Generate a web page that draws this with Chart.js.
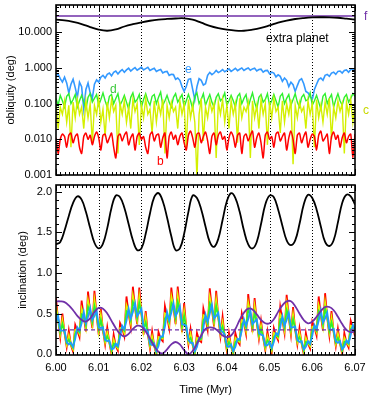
<!DOCTYPE html>
<html>
<head>
<meta charset="utf-8">
<script src="https://cdn.jsdelivr.net/npm/chart.js@4.4.0/dist/chart.umd.min.js"></script>
<style>
  html, body { margin: 0; padding: 0; background: #fff; }
  #wrap { position: relative; width: 374px; height: 397px; }
  #wrap canvas { position: absolute; left: 0; }
</style>
</head>
<body>
<div id="wrap">
  <canvas id="topChart" width="374" height="180" style="top:0;width:374px;height:180px"></canvas>
  <canvas id="botChart" width="374" height="217" style="top:180px;width:374px;height:217px"></canvas>
</div>
<script>
// sample times (Myr)
const timeFine = [];   // every 0.0005
for (let i = 0; i <= 140; i++) timeFine.push(+(6 + 0.0005 * i).toFixed(4));
const timeMid = [];    // every 0.001
for (let i = 0; i <= 70; i++) timeMid.push(+(6 + 0.001 * i).toFixed(3));
const timeCoarse = []; // every 0.002
for (let i = 0; i <= 35; i++) timeCoarse.push(+(6 + 0.002 * i).toFixed(3));

const xTickVals = [6.00, 6.01, 6.02, 6.03, 6.04, 6.05, 6.06, 6.07];
const dottedTimes = [6.01, 6.02, 6.03, 6.04, 6.05, 6.06];
const oblTicks = [0.001, 0.01, 0.1, 1, 10];
const incTicks = [0, 0.5, 1.0, 1.5, 2.0];

// ---- top panel: obliquity (deg) ----
const oblFTimes = [6.00, 6.035, 6.07];
const oblF = [28.5, 28.5, 28.6];

const oblExtra = [22.5, 21.5, 19.5, 17, 14, 11.8, 11.0, 12.0, 14.5, 16.8,
  19.0, 21.0, 22.6, 23.6, 24.3, 24.6, 22.5, 18.5, 15.0, 13.0,
  11.8, 11.1, 11.0, 11.8, 13.2, 15.5, 18.5, 21.2, 23.5, 25.0,
  26.0, 26.3, 26.2, 25.5, 24.0, 22.5];

const oblE = [0.62, 0.66, 0.50, 0.40, 0.55, 0.38, 0.20, 0.35, 0.48, 0.28,
  0.15, 0.40, 0.30, 0.07, 0.25, 0.38, 0.20, 0.14, 0.35, 0.46,
  0.40, 0.55, 0.62, 0.52, 0.66, 0.72, 0.60, 0.75, 0.82, 0.68,
  0.80, 0.90, 0.76, 0.88, 0.98, 0.82, 0.92, 1.02, 0.86, 0.95,
  1.05, 0.88, 0.96, 1.04, 0.85, 0.92, 0.98, 0.80, 0.86, 0.90,
  0.72, 0.78, 0.80, 0.62, 0.66, 0.65, 0.48, 0.52, 0.45, 0.30,
  0.22, 0.30, 0.48, 0.50, 0.25, 0.13, 0.30, 0.50, 0.45, 0.33,
  0.36, 0.62, 0.75, 0.65, 0.72, 0.85, 0.74, 0.80, 0.90, 0.78,
  0.85, 0.94, 0.80, 0.88, 0.98, 0.84, 0.92, 1.00, 0.85, 0.93,
  1.00, 0.86, 0.94, 0.98, 0.82, 0.90, 0.92, 0.76, 0.84, 0.85,
  0.68, 0.76, 0.72, 0.56, 0.64, 0.58, 0.42, 0.52, 0.45, 0.30,
  0.40, 0.34, 0.22, 0.32, 0.45, 0.50, 0.36, 0.22, 0.20, 0.16,
  0.13, 0.25, 0.35, 0.48, 0.52, 0.45, 0.62, 0.66, 0.58, 0.72,
  0.76, 0.66, 0.80, 0.82, 0.72, 0.85, 0.88, 0.76, 0.90, 0.92,
  0.82];

const oblD = [0.14, 0.09, 0.17, 0.12, 0.08, 0.16, 0.19, 0.10, 0.13, 0.18,
  0.08, 0.12, 0.17, 0.11, 0.07, 0.15, 0.19, 0.11, 0.14, 0.18,
  0.09, 0.13, 0.20, 0.12, 0.08, 0.16, 0.18, 0.10, 0.14, 0.19,
  0.09, 0.12, 0.17, 0.11, 0.07, 0.15, 0.20, 0.11, 0.13, 0.18,
  0.08, 0.13, 0.19, 0.12, 0.09, 0.16, 0.18, 0.10, 0.15, 0.21,
  0.09, 0.12, 0.17, 0.11, 0.08, 0.15, 0.19, 0.11, 0.14, 0.18,
  0.08, 0.12, 0.18, 0.12, 0.07, 0.16, 0.20, 0.10, 0.13, 0.19,
  0.09, 0.13, 0.18, 0.11, 0.08, 0.15, 0.19, 0.12, 0.14, 0.20,
  0.09, 0.12, 0.17, 0.12, 0.08, 0.16, 0.19, 0.10, 0.14, 0.18,
  0.08, 0.13, 0.20, 0.11, 0.07, 0.15, 0.18, 0.11, 0.13, 0.19,
  0.09, 0.12, 0.18, 0.12, 0.08, 0.16, 0.19, 0.10, 0.14, 0.18,
  0.09, 0.13, 0.19, 0.11, 0.08, 0.15, 0.18, 0.12, 0.13, 0.20,
  0.09, 0.12, 0.17, 0.11, 0.07, 0.16, 0.19, 0.10, 0.14, 0.18,
  0.08, 0.13, 0.19, 0.12, 0.09, 0.15, 0.18, 0.11, 0.14, 0.19,
  0.16];

const oblC = [0.10, 0.02, 0.08, 0.05, 0.12, 0.03, 0.09, 0.006, 0.11, 0.04,
  0.13, 0.05, 0.08, 0.02, 0.12, 0.04, 0.10, 0.008, 0.09, 0.05,
  0.14, 0.03, 0.07, 0.012, 0.11, 0.04, 0.13, 0.06, 0.09, 0.004,
  0.10, 0.05, 0.12, 0.03, 0.08, 0.02, 0.13, 0.06, 0.10, 0.007,
  0.09, 0.04, 0.14, 0.05, 0.07, 0.015, 0.12, 0.03, 0.10, 0.05,
  0.13, 0.004, 0.09, 0.04, 0.11, 0.06, 0.08, 0.02, 0.12, 0.05,
  0.10, 0.006, 0.13, 0.04, 0.09, 0.03, 0.0008, 0.05, 0.14, 0.009,
  0.08, 0.04, 0.12, 0.06, 0.10, 0.003, 0.11, 0.05, 0.13, 0.03,
  0.09, 0.02, 0.12, 0.05, 0.10, 0.008, 0.14, 0.04, 0.08, 0.06,
  0.11, 0.003, 0.12, 0.04, 0.09, 0.02, 0.13, 0.05, 0.10, 0.007,
  0.11, 0.04, 0.14, 0.06, 0.08, 0.015, 0.12, 0.03, 0.10, 0.05,
  0.13, 0.002, 0.09, 0.04, 0.11, 0.06, 0.08, 0.02, 0.12, 0.05,
  0.10, 0.006, 0.13, 0.04, 0.09, 0.03, 0.11, 0.05, 0.14, 0.01,
  0.08, 0.04, 0.12, 0.06, 0.10, 0.004, 0.11, 0.05, 0.13, 0.03,
  0.09];

const oblB = [0.011, 0.004, 0.010, 0.014, 0.012, 0.006, 0.013, 0.015, 0.008, 0.012,
  0.014, 0.006, 0.004, 0.012, 0.015, 0.010, 0.013, 0.007, 0.012, 0.016,
  0.011, 0.005, 0.013, 0.014, 0.008, 0.011, 0.015, 0.006, 0.003, 0.012,
  0.014, 0.009, 0.013, 0.016, 0.007, 0.011, 0.014, 0.005, 0.012, 0.015,
  0.010, 0.012, 0.006, 0.004, 0.013, 0.016, 0.009, 0.013, 0.014, 0.006,
  0.011, 0.015, 0.003, 0.012, 0.016, 0.010, 0.013, 0.007, 0.012, 0.015,
  0.008, 0.005, 0.013, 0.017, 0.011, 0.006, 0.014, 0.015, 0.008, 0.012,
  0.016, 0.009, 0.004, 0.012, 0.015, 0.007, 0.013, 0.016, 0.010, 0.012,
  0.005, 0.011, 0.016, 0.012, 0.006, 0.013, 0.015, 0.004, 0.012, 0.014,
  0.009, 0.013, 0.017, 0.006, 0.011, 0.015, 0.008, 0.003, 0.013, 0.016,
  0.010, 0.012, 0.006, 0.014, 0.016, 0.009, 0.012, 0.015, 0.005, 0.011,
  0.017, 0.010, 0.004, 0.013, 0.015, 0.008, 0.012, 0.016, 0.006, 0.010,
  0.014, 0.012, 0.005, 0.013, 0.017, 0.009, 0.011, 0.014, 0.004, 0.012,
  0.016, 0.010, 0.013, 0.006, 0.011, 0.015, 0.008, 0.012, 0.014, 0.003,
  0.014];

// ---- bottom panel: inclination (deg) ----
const incExtra = [1.35, 1.38, 1.52, 1.70, 1.86, 1.94, 1.90, 1.75, 1.55, 1.37,
  1.30, 1.36, 1.55, 1.80, 1.95, 1.93, 1.80, 1.60, 1.40, 1.28,
  1.30, 1.48, 1.73, 1.93, 1.98, 1.88, 1.68, 1.45, 1.28, 1.30,
  1.48, 1.75, 1.95, 1.92, 1.78, 1.57, 1.38, 1.32, 1.42, 1.65,
  1.88, 1.98, 1.92, 1.75, 1.52, 1.35, 1.30, 1.38, 1.60, 1.84,
  1.95, 1.93, 1.78, 1.58, 1.40, 1.34, 1.40, 1.60, 1.84, 1.96,
  1.92, 1.78, 1.57, 1.38, 1.33, 1.40, 1.62, 1.86, 1.96, 1.94,
  1.84];

const incF = [0.65, 0.65, 0.64, 0.60, 0.54, 0.47, 0.42, 0.40, 0.44, 0.52,
  0.57, 0.56, 0.50, 0.41, 0.32, 0.25, 0.22, 0.25, 0.31, 0.35,
  0.34, 0.28, 0.19, 0.10, 0.03, 0.01, 0.06, 0.12, 0.15, 0.12,
  0.05, 0.00, 0.04, 0.13, 0.23, 0.31, 0.33, 0.32, 0.28, 0.23,
  0.21, 0.23, 0.31, 0.42, 0.51, 0.56, 0.55, 0.49, 0.42, 0.38,
  0.38, 0.43, 0.52, 0.60, 0.65, 0.65, 0.59, 0.50, 0.42, 0.38,
  0.40, 0.46, 0.53, 0.58, 0.58, 0.54, 0.46, 0.37, 0.30, 0.27,
  0.28];

const incFMeanTimes = [6.00, 6.07];
const incFMean = [0.30, 0.30];

const incB = [0.69, 0.42, 0.21, 0.50, 0.26, 0.09, 0.29, 0.11, 0.03, 0.36,
  0.29, 0.21, 0.66, 0.46, 0.28, 0.77, 0.51, 0.32, 0.78, 0.48,
  0.24, 0.56, 0.29, 0.12, 0.33, 0.14, 0.00, 0.24, 0.10, 0.04,
  0.38, 0.32, 0.22, 0.71, 0.50, 0.34, 0.83, 0.57, 0.37, 0.82,
  0.50, 0.24, 0.53, 0.25, 0.07, 0.28, 0.10, 0.00, 0.27, 0.19,
  0.16, 0.59, 0.46, 0.32, 0.82, 0.57, 0.37, 0.83, 0.53, 0.27,
  0.63, 0.32, 0.12, 0.31, 0.11, 0.00, 0.26, 0.17, 0.15, 0.56,
  0.44, 0.30, 0.81, 0.55, 0.34, 0.78, 0.45, 0.22, 0.46, 0.21,
  0.04, 0.26, 0.09, 0.00, 0.26, 0.16, 0.12, 0.50, 0.39, 0.25,
  0.74, 0.48, 0.27, 0.69, 0.39, 0.19, 0.41, 0.20, 0.05, 0.28,
  0.12, 0.02, 0.32, 0.23, 0.17, 0.58, 0.42, 0.26, 0.73, 0.45,
  0.24, 0.58, 0.30, 0.12, 0.32, 0.13, 0.00, 0.26, 0.13, 0.07,
  0.40, 0.33, 0.23, 0.71, 0.48, 0.29, 0.75, 0.45, 0.23, 0.53,
  0.27, 0.10, 0.31, 0.13, 0.00, 0.26, 0.14, 0.08, 0.41, 0.33,
  0.22];

const incC = [0.59, 0.44, 0.25, 0.42, 0.28, 0.12, 0.23, 0.12, 0.06, 0.30,
  0.31, 0.25, 0.56, 0.48, 0.33, 0.66, 0.53, 0.37, 0.67, 0.50,
  0.28, 0.48, 0.31, 0.15, 0.27, 0.15, 0.03, 0.18, 0.11, 0.07,
  0.32, 0.33, 0.26, 0.60, 0.52, 0.39, 0.72, 0.59, 0.42, 0.71,
  0.52, 0.28, 0.45, 0.26, 0.10, 0.22, 0.11, 0.01, 0.21, 0.20,
  0.19, 0.50, 0.48, 0.37, 0.71, 0.59, 0.42, 0.72, 0.55, 0.32,
  0.53, 0.33, 0.15, 0.25, 0.12, 0.01, 0.20, 0.18, 0.18, 0.48,
  0.46, 0.35, 0.70, 0.57, 0.39, 0.67, 0.47, 0.25, 0.39, 0.22,
  0.07, 0.20, 0.10, 0.01, 0.20, 0.17, 0.15, 0.42, 0.41, 0.29,
  0.63, 0.50, 0.32, 0.59, 0.41, 0.22, 0.35, 0.21, 0.08, 0.22,
  0.13, 0.05, 0.26, 0.24, 0.20, 0.49, 0.44, 0.30, 0.62, 0.47,
  0.28, 0.49, 0.32, 0.15, 0.26, 0.14, 0.03, 0.20, 0.14, 0.10,
  0.34, 0.34, 0.27, 0.60, 0.50, 0.34, 0.64, 0.47, 0.27, 0.45,
  0.29, 0.13, 0.25, 0.14, 0.03, 0.20, 0.15, 0.11, 0.35, 0.34,
  0.25];

const incD = [0.51, 0.43, 0.27, 0.37, 0.27, 0.14, 0.18, 0.12, 0.08, 0.25,
  0.30, 0.27, 0.49, 0.47, 0.36, 0.58, 0.52, 0.40, 0.59, 0.49,
  0.31, 0.42, 0.30, 0.17, 0.22, 0.15, 0.05, 0.13, 0.11, 0.09,
  0.27, 0.32, 0.29, 0.53, 0.51, 0.42, 0.64, 0.58, 0.45, 0.63,
  0.51, 0.31, 0.39, 0.26, 0.12, 0.17, 0.11, 0.03, 0.16, 0.20,
  0.21, 0.44, 0.47, 0.40, 0.63, 0.58, 0.45, 0.64, 0.54, 0.35,
  0.47, 0.32, 0.17, 0.20, 0.12, 0.03, 0.15, 0.18, 0.19, 0.42,
  0.45, 0.38, 0.62, 0.56, 0.42, 0.59, 0.46, 0.28, 0.34, 0.22,
  0.09, 0.15, 0.10, 0.03, 0.15, 0.17, 0.17, 0.37, 0.40, 0.33,
  0.55, 0.49, 0.35, 0.51, 0.40, 0.24, 0.31, 0.21, 0.10, 0.17,
  0.13, 0.07, 0.21, 0.24, 0.22, 0.43, 0.43, 0.33, 0.54, 0.46,
  0.31, 0.43, 0.31, 0.17, 0.21, 0.14, 0.05, 0.15, 0.14, 0.12,
  0.29, 0.33, 0.29, 0.53, 0.49, 0.37, 0.56, 0.46, 0.29, 0.39,
  0.28, 0.15, 0.20, 0.14, 0.05, 0.15, 0.15, 0.13, 0.31, 0.33,
  0.28];

const incE = [0.40, 0.47, 0.29, 0.29, 0.29, 0.15, 0.12, 0.14, 0.09, 0.19,
  0.33, 0.29, 0.38, 0.52, 0.38, 0.46, 0.57, 0.42, 0.47, 0.54,
  0.33, 0.32, 0.33, 0.18, 0.16, 0.17, 0.06, 0.07, 0.13, 0.10,
  0.21, 0.35, 0.31, 0.41, 0.56, 0.44, 0.52, 0.63, 0.47, 0.51,
  0.56, 0.33, 0.30, 0.28, 0.13, 0.11, 0.13, 0.04, 0.10, 0.22,
  0.22, 0.34, 0.52, 0.42, 0.51, 0.63, 0.47, 0.52, 0.59, 0.37,
  0.36, 0.35, 0.18, 0.14, 0.14, 0.04, 0.09, 0.20, 0.21, 0.32,
  0.49, 0.40, 0.50, 0.61, 0.44, 0.47, 0.51, 0.30, 0.27, 0.24,
  0.10, 0.09, 0.12, 0.04, 0.09, 0.19, 0.18, 0.29, 0.43, 0.35,
  0.43, 0.54, 0.37, 0.40, 0.43, 0.26, 0.24, 0.23, 0.11, 0.11,
  0.15, 0.08, 0.15, 0.26, 0.24, 0.33, 0.47, 0.35, 0.42, 0.51,
  0.33, 0.33, 0.34, 0.18, 0.15, 0.16, 0.06, 0.09, 0.16, 0.13,
  0.23, 0.36, 0.31, 0.41, 0.54, 0.39, 0.44, 0.51, 0.31, 0.30,
  0.31, 0.16, 0.14, 0.16, 0.06, 0.09, 0.17, 0.14, 0.24, 0.36,
  0.30];

const FONT = '"Liberation Sans", Arial, sans-serif';
Chart.defaults.font.family = FONT;
Chart.defaults.font.size = 11;
Chart.defaults.color = '#000';

const PURPLE = '#7030a8';
const pts = (times, vals) => vals.map((v, i) => ({ x: times[i], y: v }));

function line(label, times, vals, color, width, order, extra) {
  return Object.assign({
    label, data: pts(times, vals), borderColor: color, borderWidth: width,
    pointRadius: 0, fill: false, tension: 0, order, clip: 0
  }, extra || {});
}

// frame, inward minor ticks, dotted lines, text labels
function framePlugin(cfg) {
  return {
    id: 'frame_' + cfg.name,
    beforeDatasetsDraw(chart) {
      const { ctx, chartArea: a, scales: { x } } = chart;
      ctx.save();
      ctx.strokeStyle = '#000';
      ctx.lineWidth = 1;
      ctx.setLineDash([1, 2]);
      dottedTimes.forEach(t => {
        const px = Math.round(x.getPixelForValue(t)) + 0.5;
        ctx.beginPath(); ctx.moveTo(px, a.top); ctx.lineTo(px, a.bottom); ctx.stroke();
      });
      ctx.restore();
    },
    afterDatasetsDraw(chart) {
      const { ctx, chartArea: a, scales: { x, y } } = chart;
      ctx.save();
      ctx.strokeStyle = '#000';
      ctx.lineWidth = 1;
      ctx.beginPath();
      for (let i = 0; i <= 70; i++) {
        const px = Math.round(x.getPixelForValue(6 + i * 0.001)) + 0.5;
        const len = i % 10 === 0 ? 6 : 3;
        ctx.moveTo(px, a.bottom); ctx.lineTo(px, a.bottom - len);
        ctx.moveTo(px, a.top); ctx.lineTo(px, a.top + len);
      }
      cfg.yMinor.forEach(v => {
        const py = Math.round(y.getPixelForValue(v)) + 0.5;
        const len = cfg.yMajor.includes(v) ? 6 : 3;
        ctx.moveTo(a.left, py); ctx.lineTo(a.left + len, py);
        ctx.moveTo(a.right, py); ctx.lineTo(a.right - len, py);
      });
      ctx.stroke();
      ctx.lineWidth = 1.6;
      ctx.strokeRect(a.left, a.top, a.right - a.left, a.bottom - a.top);
      (cfg.labels || []).forEach(l => {
        ctx.font = '12px ' + FONT;
        ctx.fillStyle = l.color;
        ctx.textAlign = 'left';
        ctx.textBaseline = 'alphabetic';
        ctx.fillText(l.text, l.x, l.y);
      });
      ctx.restore();
    }
  };
}

const oblMinor = [];
[0.001, 0.01, 0.1, 1, 10].forEach(d => {
  for (let m = 1; m <= 9; m++) if (m * d <= 58) oblMinor.push(+(m * d).toPrecision(3));
});
const incMinor = [];
for (let i = 0; i <= 20; i++) incMinor.push(+(i * 0.1).toFixed(1));

const yFit = w => scale => { scale.width = w; scale.paddingTop = 0; scale.paddingBottom = 0; };
const xFit = h => scale => { scale.height = h; scale.paddingLeft = 0; scale.paddingRight = 0; };
const noGrid = { display: false, drawTicks: false };

new Chart(document.getElementById('topChart'), {
  type: 'line',
  data: {
    datasets: [
      line('b', timeFine, oblB, '#ff0000', 1.5, 1, { tension: 0.25 }),
      line('c', timeFine, oblC, '#d4f000', 1.4, 2),
      line('d', timeFine, oblD, '#2ef02e', 1.4, 3),
      line('e', timeFine, oblE, '#3399ff', 1.6, 4),
      line('extra planet', timeCoarse, oblExtra, '#000', 1.8, 5, { tension: 0.4 }),
      line('f', oblFTimes, oblF, PURPLE, 1.6, 6)
    ]
  },
  options: {
    responsive: false, animation: false, events: [],
    layout: { padding: { left: 0, right: 19, top: 5, bottom: 5 } },
    plugins: { legend: { display: false }, tooltip: { enabled: false } },
    scales: {
      x: {
        type: 'linear', min: 6.0, max: 6.07,
        grid: noGrid, border: { display: false },
        ticks: { display: false },
        afterFit: xFit(0)
      },
      y: {
        type: 'logarithmic', min: 0.001, max: 58,
        grid: noGrid, border: { display: false },
        afterBuildTicks: s => { s.ticks = oblTicks.map(v => ({ value: v })); },
        ticks: { padding: 4, callback: v => Number(v).toFixed(3), font: { size: 11 } },
        title: { display: true, text: 'obliquity (deg)', font: { size: 11 }, padding: { top: 4, bottom: 0 } },
        afterFit: yFit(56)
      }
    }
  },
  plugins: [framePlugin({
    name: 'top', yMinor: oblMinor, yMajor: oblTicks,
    labels: [
      { text: 'f', x: 364, y: 20, color: PURPLE },
      { text: 'c', x: 363, y: 114, color: '#c8d800' },
      { text: 'd', x: 110, y: 93, color: '#3cc83c' },
      { text: 'e', x: 185, y: 73, color: '#3399ff' },
      { text: 'b', x: 157, y: 165, color: '#ff0000' },
      { text: 'extra planet', x: 266, y: 42, color: '#000' }
    ]
  })]
});

new Chart(document.getElementById('botChart'), {
  type: 'line',
  data: {
    datasets: [
      line('f mean', incFMeanTimes, incFMean, PURPLE, 1.2, 0, { borderDash: [4, 3] }),
      line('f', timeMid, incF, PURPLE, 1.8, 1, { tension: 0.4 }),
      line('e', timeFine, incE, '#1e9bff', 1.8, 2),
      line('d', timeFine, incD, '#2ef02e', 1.8, 3),
      line('c', timeFine, incC, '#e0f500', 1.8, 4),
      line('b', timeFine, incB, '#ff0000', 1.8, 5),
      line('extra planet', timeMid, incExtra, '#000', 1.8, 6, { tension: 0.4 })
    ]
  },
  options: {
    responsive: false, animation: false, events: [],
    layout: { padding: { left: 0, right: 19, top: 5, bottom: 0 } },
    plugins: { legend: { display: false }, tooltip: { enabled: false } },
    scales: {
      x: {
        type: 'linear', min: 6.0, max: 6.07,
        grid: noGrid, border: { display: false },
        afterBuildTicks: s => { s.ticks = xTickVals.map(v => ({ value: v })); },
        ticks: { padding: 6, autoSkip: false, maxRotation: 0, callback: v => Number(v).toFixed(2), font: { size: 11 } },
        title: { display: true, text: 'Time (Myr)', font: { size: 11 }, padding: { top: 0, bottom: 0 } },
        afterFit: xFit(42)
      },
      y: {
        type: 'linear', min: -0.01, max: 2.08,
        grid: noGrid, border: { display: false },
        afterBuildTicks: s => { s.ticks = incTicks.map(v => ({ value: v })); },
        ticks: { padding: 4, callback: v => Number(v).toFixed(1), font: { size: 11 } },
        title: { display: true, text: 'inclination (deg)', font: { size: 11 }, padding: { top: 16, bottom: 0 } },
        afterFit: yFit(56)
      }
    }
  },
  plugins: [framePlugin({ name: 'bot', yMinor: incMinor, yMajor: incTicks })]
});
</script>
</body>
</html>
